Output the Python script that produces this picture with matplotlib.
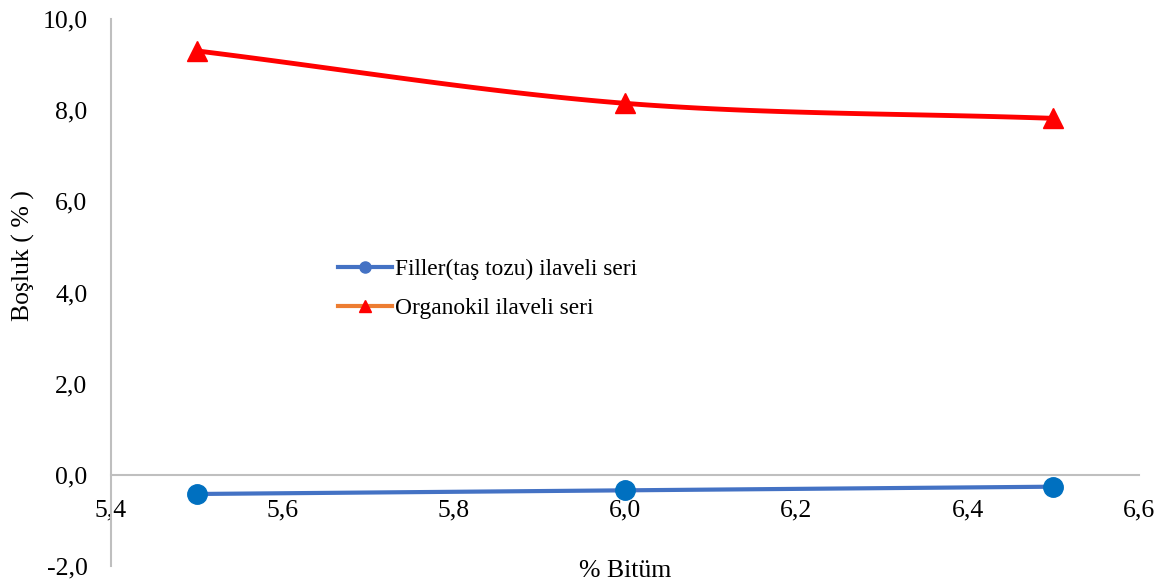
import matplotlib.pyplot as plt
from matplotlib.lines import Line2D
import numpy as np

plt.rcParams['font.family'] = ['Liberation Serif', 'DejaVu Serif']

# Bitumen content (%) and air voids (%) for the two mixes
bitum = [5.5, 6.0, 6.5]
filler_bosluk = [-0.42, -0.34, -0.26]
organokil_bosluk = [9.3, 8.15, 7.82]

series_labels = ['Filler(taş tozu) ilaveli seri', 'Organokil ilaveli seri']
x_ticks = [5.4, 5.6, 5.8, 6.0, 6.2, 6.4, 6.6]
y_ticks = [-2.0, 0.0, 2.0, 4.0, 6.0, 8.0, 10.0]


def smooth(xs, ys, n=60):
    # Catmull-Rom style smoothing between the measured points
    xs = np.asarray(xs, float)
    ys = np.asarray(ys, float)
    px = np.concatenate([[2 * xs[0] - xs[1]], xs, [2 * xs[-1] - xs[-2]]])
    py = np.concatenate([[2 * ys[0] - ys[1]], ys, [2 * ys[-1] - ys[-2]]])
    out_x, out_y = [], []
    t = np.linspace(0, 1, n)
    for i in range(1, len(px) - 2):
        for arr, src in ((out_x, px), (out_y, py)):
            p0, p1, p2, p3 = src[i - 1:i + 3]
            arr.extend(0.5 * (2 * p1 + (-p0 + p2) * t
                              + (2 * p0 - 5 * p1 + 4 * p2 - p3) * t ** 2
                              + (-p0 + 3 * p1 - 3 * p2 + p3) * t ** 3))
    return out_x, out_y


fig = plt.figure(figsize=(11.65, 5.84), dpi=100)
ax = fig.add_axes([0.0953, 0.0308, 0.8824, 0.9367])

blue = '#4472C4'
ax.plot(bitum, filler_bosluk, color=blue, linewidth=3, zorder=3)
ax.plot(bitum, filler_bosluk, 'o', color='#0070C0', markersize=14, zorder=4)

sx, sy = smooth(bitum, organokil_bosluk)
ax.plot(sx, sy, color='#FF0000', linewidth=3.5, zorder=3)
ax.plot(bitum, organokil_bosluk, '^', color='#FF0000', markersize=15, zorder=4)

ax.set_xlim(5.4, 6.6)
ax.set_ylim(-2, 10)
ax.set_xticks(x_ticks)
ax.set_yticks(y_ticks)
ax.set_xticklabels([f'{v:.1f}'.replace('.', ',') for v in x_ticks])
ax.set_yticklabels([f'{v:.1f}'.replace('.', ',') for v in y_ticks])
ax.tick_params(length=0, labelsize=18.5)
ax.tick_params(axis='y', pad=17)
ax.tick_params(axis='x', pad=18)

for side in ('top', 'right'):
    ax.spines[side].set_visible(False)
ax.spines['left'].set_color('#BFBFBF')
ax.spines['bottom'].set_color('#BFBFBF')
ax.spines['left'].set_linewidth(1.5)
ax.spines['bottom'].set_linewidth(1.5)
ax.spines['bottom'].set_position(('data', 0))

ax.set_ylabel('Boşluk ( % )', fontsize=18.5)
ax.yaxis.set_label_coords(-0.074, 0.567, transform=ax.transAxes)
ax.set_xlabel('% Bitüm', fontsize=18.5)
ax.xaxis.set_label_coords(0.5, -0.01, transform=ax.transAxes)
ax.xaxis.label.set_va('center')

handles = [
    Line2D([], [], color=blue, linewidth=3, marker='o', markersize=8,
           markerfacecolor='#4472C4', markeredgecolor='#4472C4'),
    Line2D([], [], color='#ED7D31', linewidth=3, marker='^', markersize=8,
           markerfacecolor='#FF0000', markeredgecolor='#FF0000'),
]
ax.legend(handles, series_labels, loc='upper left', bbox_to_anchor=(0.2, 0.6),
          frameon=False, fontsize=16.8, handlelength=2.35, handletextpad=0.1,
          labelspacing=0.75)

fig.savefig('out.png', dpi=100)
